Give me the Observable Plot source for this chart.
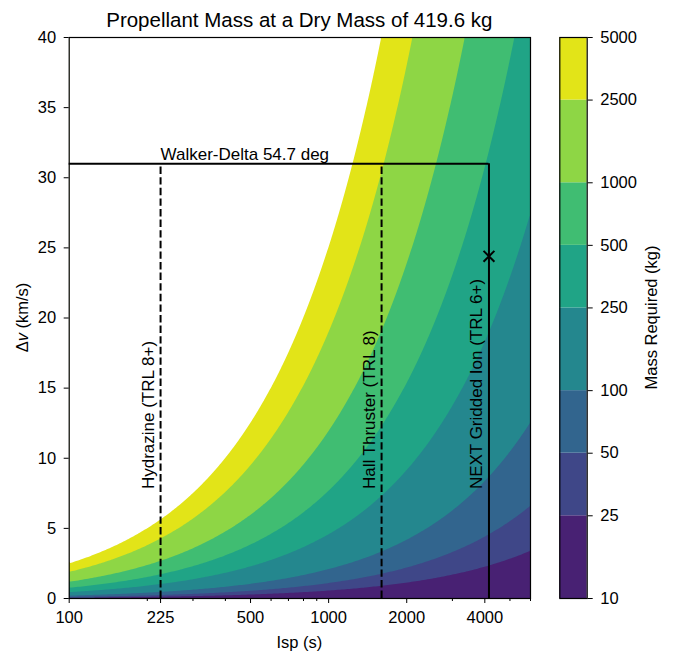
<!DOCTYPE html>
<html><head><meta charset="utf-8">
<script src="https://cdn.jsdelivr.net/npm/d3@7"></script>
<script src="https://cdn.jsdelivr.net/npm/@observablehq/plot@0.6"></script>
<style>
body{margin:0;background:#fff;}
#wrap{position:relative;width:673px;height:656px;}
#wrap svg{position:absolute;left:0;top:0;}
</style></head><body><div id="wrap"></div>
<script>
// ---- data ----
const dryMass = 419.6;            // kg
const g0 = 9.80665;               // m/s^2
const levels = [10, 25, 50, 100, 250, 500, 1000, 2500, 5000];
const levelLabels = ["10", "25", "50", "100", "250", "500", "1000", "2500", "5000"];
const bandPositions = [0.090, 0.213, 0.324, 0.461, 0.583, 0.695, 0.831, 0.954];
const xTicks = [100, 225, 500, 1000, 2000, 4000];
const xMinorTicks = [200, 300, 400, 600, 700, 800, 900, 3000, 5000, 6000];
const yTicks = [0, 5, 10, 15, 20, 25, 30, 35, 40];
const walkerLabel = "Walker-Delta 54.7 deg";
const walkerDv = 31;
const thrusterNames = ["Hydrazine (TRL 8+)", "Hall Thruster (TRL 8)", "NEXT Gridded Ion (TRL 6+)"];
const thrusterIsp = [225, 1600, 4150];
const thrusterLabelDv = [7.8, 7.8, 7.8];
const markerIsp = [4150];
const markerDv = [24.4];

// ---- derived ----
const bandColors = bandPositions.map(t => d3.interpolateViridis(t));
const massFn = (isp, dv) => dryMass * (Math.exp(dv * 1000 / (g0 * isp)) - 1);
const FONT = "'Liberation Sans', Arial, sans-serif";
const W = 673, H = 656, L = 68.7, R = 530, T = 37, B = 598;

const thrusters = thrusterNames.map((name, i) => ({name, isp: thrusterIsp[i], dv: thrusterLabelDv[i]}));
const markers = markerIsp.map((x, i) => ({x, y: markerDv[i]}));

const main = Plot.plot({
  width: W, height: H,
  marginLeft: L, marginRight: W - R, marginTop: T, marginBottom: H - B,
  style: {fontFamily: FONT, fontSize: "16.5px", color: "black", background: "transparent"},
  x: {type: "log", domain: [100, 6000]},
  y: {domain: [0, 40]},
  color: {type: "ordinal", domain: levels.slice(1), range: [...bandColors.slice(1), "white"]},
  marks: [
    Plot.frame({fill: bandColors[0], stroke: null}),
    Plot.contour({x1: 100, x2: 6000, y1: 0, y2: 40, fill: massFn, thresholds: levels.slice(1), stroke: "none"}),
    Plot.ruleY([walkerDv], {y: d => d, x1: 100, x2: thrusterIsp[2], stroke: "black", strokeWidth: 2}),
    Plot.ruleX(thrusters.slice(0, 2), {x: "isp", y1: 0, y2: walkerDv, stroke: "black", strokeWidth: 2, strokeDasharray: "7.4,3.2"}),
    Plot.ruleX(thrusters.slice(2), {x: "isp", y1: 0, y2: walkerDv, stroke: "black", strokeWidth: 2}),
    Plot.dot(markers, {x: "x", y: "y", symbol: "times", r: 5, stroke: "black", strokeWidth: 2}),
    Plot.text([walkerLabel], {x: thrusterIsp[0], y: walkerDv, text: d => d, textAnchor: "start", lineAnchor: "bottom", dy: -4, fontSize: 17, fill: "black"}),
    Plot.text(thrusters, {x: "isp", y: "dv", text: "name", rotate: -90, textAnchor: "start", lineAnchor: "middle", dx: -12, fontSize: 17, fill: "black"}),
    Plot.axisX({ticks: xTicks, tickFormat: d => String(d), tickSize: 5, tickPadding: 8, label: null, fontSize: 16.5}),
    Plot.axisX({ticks: xMinorTicks, tickFormat: () => "", tickSize: 3, label: null}),
    Plot.axisY({ticks: yTicks, tickSize: 5, tickPadding: 8, label: null, fontSize: 16.5}),
    Plot.frame({stroke: "black", strokeWidth: 1.2})
  ]
});

// colorbar on a logarithmic (log10) position axis
const lg = Math.log10;
const cbarData = bandColors.map((c, i) => ({lo: lg(levels[i]), hi: lg(levels[i + 1]), c}));
const cbarPos = levels.map(v => lg(v));
const cbarLabel = d => levelLabels[cbarPos.findIndex(p => Math.abs(p - d) < 1e-9)];
const cbar = Plot.plot({
  width: W, height: H,
  marginLeft: 559.3, marginRight: W - 586.7, marginTop: T, marginBottom: H - B,
  style: {fontFamily: FONT, fontSize: "16.5px", color: "black", background: "transparent"},
  x: {domain: [0, 1], axis: null},
  y: {domain: [cbarPos[0], cbarPos[cbarPos.length - 1]]},
  marks: [
    Plot.rect(cbarData, {x1: 0, x2: 1, y1: "lo", y2: "hi", fill: "c"}),
    Plot.axisY({anchor: "right", ticks: cbarPos, tickFormat: cbarLabel, tickSize: 5, tickPadding: 8, label: null, fontSize: 16.5}),
    Plot.frame({stroke: "black", strokeWidth: 1.2})
  ]
});

const wrap = document.getElementById("wrap");
wrap.appendChild(main);
wrap.appendChild(cbar);

const svg = d3.select(main);
svg.append("text")
  .attr("x", (L + R) / 2).attr("y", 27)
  .attr("text-anchor", "middle")
  .attr("font-family", FONT).attr("font-size", 20.5).attr("fill", "black")
  .text("Propellant Mass at a Dry Mass of 419.6 kg");
svg.append("text")
  .attr("x", (L + R) / 2).attr("y", 648)
  .attr("text-anchor", "middle")
  .attr("font-family", FONT).attr("font-size", 16.5).attr("fill", "black")
  .text("Isp (s)");
const yl = svg.append("text")
  .attr("transform", `translate(28,${(T + B) / 2}) rotate(-90)`)
  .attr("text-anchor", "middle")
  .attr("font-family", FONT).attr("font-size", 16.5).attr("fill", "black");
yl.append("tspan").text("Δ");
yl.append("tspan").attr("font-style", "italic").text("v");
yl.append("tspan").text(" (km/s)");

d3.select(cbar).append("text")
  .attr("transform", `translate(656.5,${(T + B) / 2}) rotate(-90)`)
  .attr("text-anchor", "middle")
  .attr("font-family", FONT).attr("font-size", 16.5).attr("fill", "black")
  .text("Mass Required (kg)");
</script></body></html>
